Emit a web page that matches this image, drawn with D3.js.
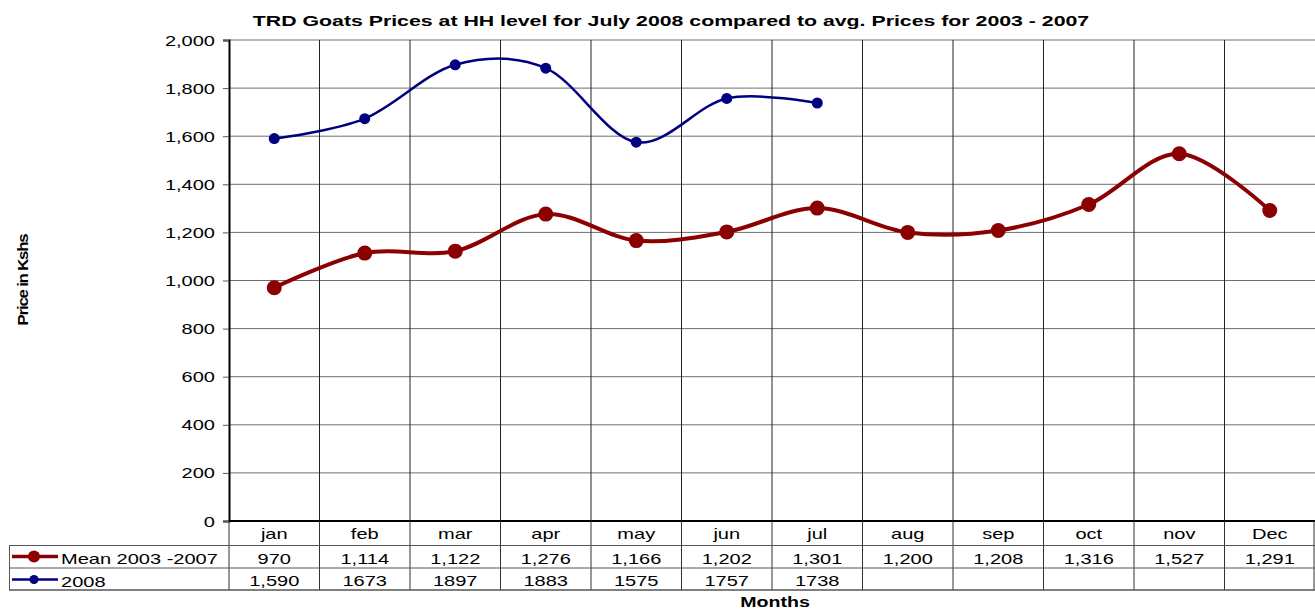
<!DOCTYPE html>
<html><head><meta charset="utf-8">
<script src="https://cdn.jsdelivr.net/npm/d3@7"></script>
<style>body{margin:0;background:#fff;}svg{display:block;font-family:"Liberation Sans",Arial,sans-serif;}</style>
</head><body>
<svg id="c" width="1315" height="609"></svg>
<script>
const months = ["jan","feb","mar","apr","may","jun","jul","aug","sep","oct","nov","Dec"];
const meanValues = [970,1114,1122,1276,1166,1202,1301,1200,1208,1316,1527,1291];
const meanLabels = ["970","1,114","1,122","1,276","1,166","1,202","1,301","1,200","1,208","1,316","1,527","1,291"];
const y2008Values = [1590,1673,1897,1883,1575,1757,1738];
const y2008Labels = ["1,590","1673","1897","1883","1575","1757","1738"];
const yTicks = [0,200,400,600,800,1000,1200,1400,1600,1800,2000];
const seriesNames = ["Mean 2003 -2007","2008"];

const svg = d3.select("#c");
const L = 229, R = 1315, T = 40, B = 521;
const x = d3.scaleBand().domain(months).range([L, R]);
const y = d3.scaleLinear().domain([0,2000]).range([B, T]);
const SX = 1.38;
function stext(g, tx, ty, str, opts) {
  opts = opts || {};
  const t = g.append("text").attr("transform", `translate(${tx},${ty}) scale(${opts.sx||SX},1)`)
    .attr("text-anchor", opts.anchor || "middle").attr("font-size", opts.size || 14.5).text(str);
  if (opts.bold) t.attr("font-weight","bold");
  return t;
}

// title
stext(svg, 671, 26, "TRD Goats Prices at HH level for July 2008 compared to avg. Prices for 2003 - 2007", {size:15, bold:true, sx:1.42});

// horizontal gridlines
svg.append("g").selectAll("line").data(yTicks.filter(d=>d>0)).join("line")
  .attr("x1", L).attr("x2", R).attr("y1", d=>y(d)).attr("y2", d=>y(d))
  .attr("stroke","#6e6e6e").attr("stroke-width",1);
// vertical gridlines (category boundaries)
svg.append("g").selectAll("line").data(months.slice(1)).join("line")
  .attr("x1", d=>x(d)).attr("x2", d=>x(d)).attr("y1", T).attr("y2", B)
  .attr("stroke","#222").attr("stroke-width",1);

// y axis
const yAxis = d3.axisLeft(y).tickValues(yTicks).tickSize(6).tickPadding(8).tickFormat(d3.format(","));
const ya = svg.append("g").attr("transform",`translate(${L},0)`).call(yAxis);
ya.select(".domain").attr("stroke","#000").attr("stroke-width",2);
ya.selectAll(".tick line").attr("stroke","#555");
ya.selectAll(".tick text").each(function(){
  const t = d3.select(this);
  t.attr("x",null).attr("dy",null).attr("font-size",14.5).attr("font-family","Liberation Sans, Arial, sans-serif").attr("fill","#000")
   .attr("transform",`translate(-14,5) scale(${SX},1)`);
});

// zero line
svg.append("line").attr("x1",L).attr("x2",R).attr("y1",B).attr("y2",B).attr("stroke","#000").attr("stroke-width",2);

// y label
svg.append("text").attr("transform","translate(28,280) rotate(-90) scale(1.2,1.1)").attr("text-anchor","middle")
  .attr("font-size",14).attr("font-weight","bold").attr("letter-spacing","-1").text("Price in Kshs");

// data table
const tableBottom = 590;
const tb = svg.append("g");
months.forEach(m => stext(tb, x(m)+x.bandwidth()/2, 539, m));
tb.selectAll("line.v").data(months).join("line").attr("class","v")
  .attr("x1", d=>x(d)).attr("x2", d=>x(d)).attr("y1", B).attr("y2", tableBottom)
  .attr("stroke","#333").attr("stroke-width",1);
tb.append("line").attr("x1",R-1).attr("x2",R-1).attr("y1",B).attr("y2",tableBottom).attr("stroke","#333");
[545.5,568,tableBottom].forEach(yy=>{
  tb.append("line").attr("x1",9).attr("x2",R).attr("y1",yy).attr("y2",yy).attr("stroke","#555").attr("stroke-width", yy===tableBottom?1.5:1);
});
tb.append("line").attr("x1",9.5).attr("x2",9.5).attr("y1",545.5).attr("y2",tableBottom).attr("stroke","#555");
meanLabels.forEach((d,i) => stext(tb, x(months[i])+x.bandwidth()/2, 563.5, d));
y2008Labels.forEach((d,i) => stext(tb, x(months[i])+x.bandwidth()/2, 586, d));

// legend keys in table
const keyColors = ["#8b0000","#000080"];
const keyW = [3.5,2.5], keyR = [6,4.5];
[556.5, 579.5].forEach((ky,i)=>{
  tb.append("line").attr("x1",12).attr("x2",58).attr("y1",ky).attr("y2",ky).attr("stroke",keyColors[i]).attr("stroke-width",keyW[i]);
  tb.append("circle").attr("cx",34).attr("cy",ky).attr("r",keyR[i]).attr("fill",keyColors[i]);
  stext(tb, 61, ky+7, seriesNames[i], {anchor:"start"});
});

// x title
stext(svg, 775, 607, "Months", {size:14, bold:true, sx:1.4});

// lines
const line = d3.line().x((d,i)=>x(months[i])+x.bandwidth()/2).y(d=>y(d)).curve(d3.curveCardinal.tension(0));
svg.append("path").datum(meanValues).attr("d",line).attr("fill","none").attr("stroke","#8b0000").attr("stroke-width",4);
svg.append("g").selectAll("circle").data(meanValues).join("circle")
  .attr("cx",(d,i)=>x(months[i])+x.bandwidth()/2).attr("cy",d=>y(d)).attr("r",7.5).attr("fill","#8b0000");
svg.append("path").datum(y2008Values).attr("d",line).attr("fill","none").attr("stroke","#000080").attr("stroke-width",2.5);
svg.append("g").selectAll("circle").data(y2008Values).join("circle")
  .attr("cx",(d,i)=>x(months[i])+x.bandwidth()/2).attr("cy",d=>y(d)).attr("r",5.5).attr("fill","#000080");
</script>
</body></html>
